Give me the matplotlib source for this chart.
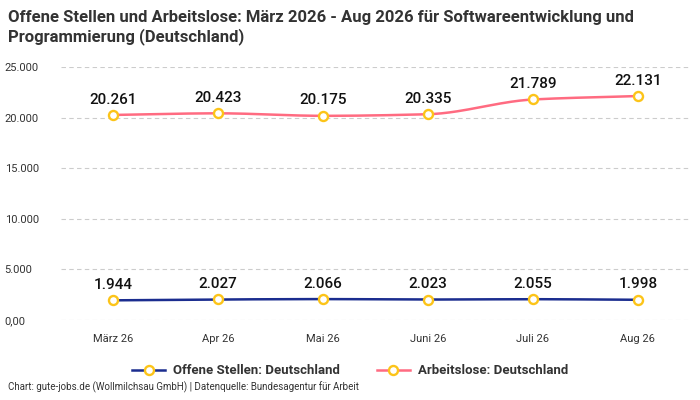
import numpy as np
import matplotlib
matplotlib.use("Agg")
import matplotlib.pyplot as plt
from matplotlib.ticker import FuncFormatter

plt.rcParams["font.family"] = ["Roboto", "DejaVu Sans"]

months = ["März 26", "Apr 26", "Mai 26", "Juni 26", "Juli 26", "Aug 26"]
offene_stellen = [1944, 2027, 2066, 2023, 2055, 1998]
arbeitslose = [20261, 20423, 20175, 20335, 21789, 22131]
y_ticks = [0, 5000, 10000, 15000, 20000, 25000]

NAVY = "#1b2d8f"
PINK = "#ff6b81"
YELLOW = "#fcc419"


def fmt_de(v):
    return f"{int(v):,}".replace(",", ".")


def monotone_curve(x, y, n=40):
    # monotone cubic hermite (Fritsch-Carlson) for a smooth line
    x = np.asarray(x, float)
    y = np.asarray(y, float)
    h = np.diff(x)
    d = np.diff(y) / h
    m = np.zeros_like(y)
    m[0], m[-1] = d[0], d[-1]
    for i in range(1, len(y) - 1):
        if d[i - 1] * d[i] <= 0:
            m[i] = 0
        else:
            w1 = 2 * h[i] + h[i - 1]
            w2 = h[i] + 2 * h[i - 1]
            m[i] = (w1 + w2) / (w1 / d[i - 1] + w2 / d[i])
    xs, ys = [], []
    for i in range(len(x) - 1):
        t = np.linspace(0, 1, n)
        h00 = 2 * t**3 - 3 * t**2 + 1
        h10 = t**3 - 2 * t**2 + t
        h01 = -2 * t**3 + 3 * t**2
        h11 = t**3 - t**2
        seg = h00 * y[i] + h10 * h[i] * m[i] + h01 * y[i + 1] + h11 * h[i] * m[i + 1]
        xs.extend(x[i] + t * h[i])
        ys.extend(seg)
    return np.array(xs), np.array(ys)


fig = plt.figure(figsize=(7, 4), dpi=100)
ax = fig.add_axes([0.087, 0.2, 0.899, 0.6325])

xpos = np.arange(len(months))
mk = dict(ls="none", marker="o", ms=6.5, mfc="white", mec=YELLOW, mew=1.7, zorder=4)

xs, ys = monotone_curve(xpos, offene_stellen)
ax.plot(xs, ys, color=NAVY, lw=1.8, zorder=3)
ax.plot(xpos, offene_stellen, **mk)

xs, ys = monotone_curve(xpos, arbeitslose)
ax.plot(xs, ys, color=PINK, lw=1.8, zorder=3)
ax.plot(xpos, arbeitslose, **mk)

for series in (offene_stellen, arbeitslose):
    for x, v in zip(xpos, series):
        ax.annotate(fmt_de(v), (x, v), xytext=(0, 6), textcoords="offset points",
                    ha="center", va="bottom", fontsize=11, fontweight="medium",
                    color="#111111")

ax.set_xlim(-0.5, len(months) - 0.5)
ax.set_ylim(0, 25000)
ax.set_xticks(xpos)
ax.set_xticklabels(months)
ax.set_yticks(y_ticks)
ax.yaxis.set_major_formatter(FuncFormatter(lambda v, p: "0,00" if v == 0 else fmt_de(v)))
ax.tick_params(axis="both", length=0, labelsize=8, colors="#333333")
ax.tick_params(axis="x", pad=10)
ax.tick_params(axis="y", pad=2)
for lbl in ax.get_yticklabels():
    lbl.set_horizontalalignment("left")
    lbl.set_x(-0.085)
ax.grid(axis="y", ls=(0, (4, 3)), color="#cccccc", lw=0.8)
for s in ax.spines.values():
    s.set_visible(False)

h1, = ax.plot([], [], color=NAVY, lw=1.8, marker="o", ms=6.5, mfc="white", mec=YELLOW, mew=1.7)
h2, = ax.plot([], [], color=PINK, lw=1.8, marker="o", ms=6.5, mfc="white", mec=YELLOW, mew=1.7)
leg = fig.legend([h1, h2], ["Offene Stellen: Deutschland", "Arbeitslose: Deutschland"],
                 loc="center", bbox_to_anchor=(0.5, 0.0725), ncol=2, frameon=False,
                 handlelength=2.5, handletextpad=0.6, columnspacing=2.8,
                 prop={"weight": "bold", "size": 9.5})
for t in leg.get_texts():
    t.set_color("#333333")

fig.text(0.012, 0.975, "Offene Stellen und Arbeitslose: März 2026 - Aug 2026 für Softwareentwicklung und\nProgrammierung (Deutschland)",
         ha="left", va="top", fontsize=12, fontweight="bold", color="#333333", linespacing=1.25)
fig.text(0.012, 0.018, "Chart: gute-jobs.de (Wollmilchsau GmbH) | Datenquelle: Bundesagentur für Arbeit",
         ha="left", va="bottom", fontsize=7, color="#333333")

fig.savefig("out.png", dpi=100)
